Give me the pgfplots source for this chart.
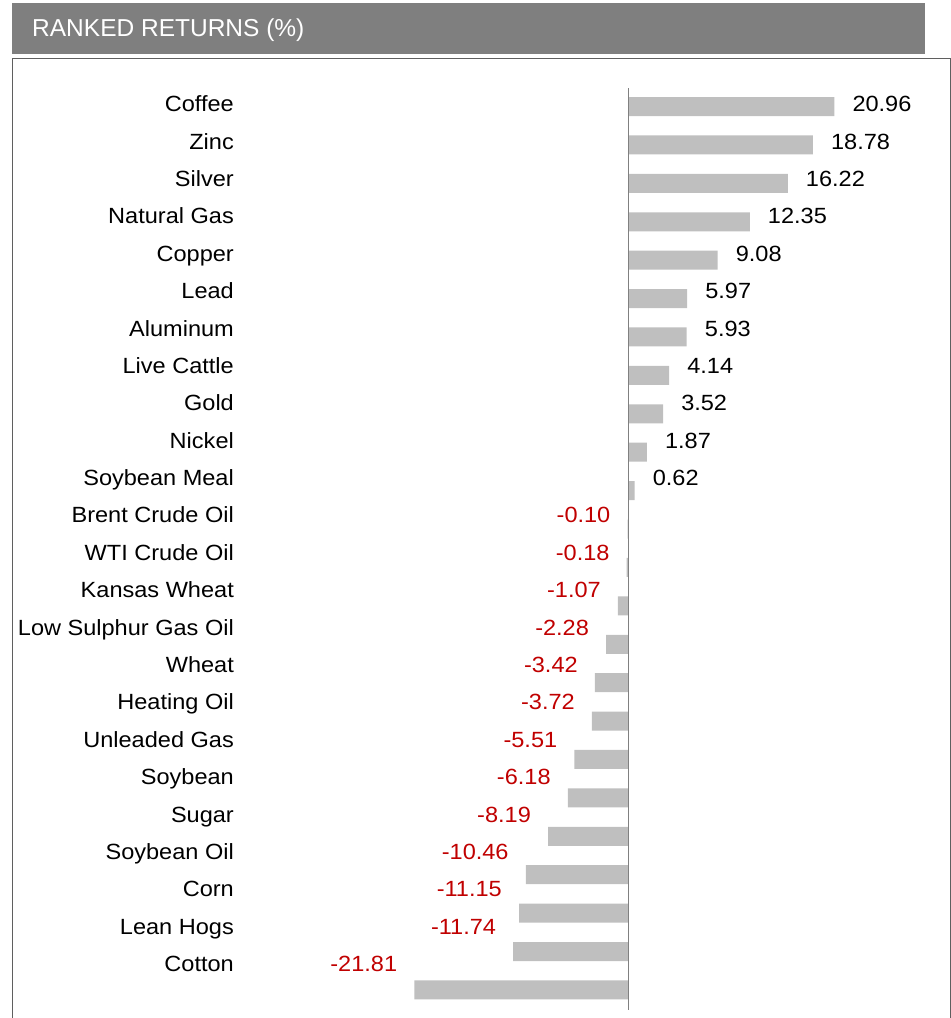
\documentclass[border=0pt]{standalone}
\usepackage{pgfplots}
\pgfplotsset{compat=1.18}
\usepackage{pgfplotstable}
\usepackage{fontspec}
\setmainfont{Liberation Sans}
\newfontfamily\widefont[FakeStretch=1.07]{Liberation Sans}
\definecolor{hdr}{RGB}{127,127,127}
\definecolor{barc}{RGB}{191,191,191}
\definecolor{negc}{RGB}{192,0,0}
\definecolor{bord}{RGB}{95,95,95}
\definecolor{zline}{RGB}{128,128,128}
\newcommand\labfont{\widefont\fontsize{22bp}{27bp}\selectfont}
\pgfplotstableread[col sep=comma]{
name,val,idx,lab
Coffee,20.96,0,0.135
Zinc,18.78,1,1.108
Silver,16.22,2,2.082
Natural Gas,12.35,3,3.055
Copper,9.08,4,4.029
Lead,5.97,5,5.002
Aluminum,5.93,6,5.975
Live Cattle,4.14,7,6.949
Gold,3.52,8,7.922
Nickel,1.87,9,8.896
Soybean Meal,0.62,10,9.869
Brent Crude Oil,-0.10,11,10.842
WTI Crude Oil,-0.18,12,11.816
Kansas Wheat,-1.07,13,12.789
Low Sulphur Gas Oil,-2.28,14,13.763
Wheat,-3.42,15,14.736
Heating Oil,-3.72,16,15.709
Unleaded Gas,-5.51,17,16.683
Soybean,-6.18,18,17.656
Sugar,-8.19,19,18.630
Soybean Oil,-10.46,20,19.603
Corn,-11.15,21,20.576
Lean Hogs,-11.74,22,21.550
Cotton,-21.81,23,22.523
}\data
\begin{document}
\begin{tikzpicture}
\useasboundingbox (0,0) rectangle (951bp,-1018bp);
\fill[hdr] (12bp,-3bp) rectangle (925bp,-54bp);
\node[anchor=base west, inner sep=0pt, text=white, font=\fontsize{24.5bp}{28bp}\selectfont] at (32bp,-36bp) {RANKED RETURNS (\%)};
\begin{axis}[
  at={(12bp,-1015bp)}, anchor=south west,
  scale only axis, width=938bp, height=957bp,
  xmin=-62.78, xmax=32.74,
  ymin=-1.263, ymax=23.653, y dir=reverse,
  axis line style={draw=none},
  xtick=\empty, ytick=\empty,
  clip=false,
]
\addplot[xbar, bar width=19bp, fill=barc, draw=none] table[x=val,y=idx]{\data};
\addplot[zline, line width=1.5bp, mark=none] coordinates {(0,-0.48) (0,23.52)};
\addplot[bord, line width=0.9bp, mark=none] coordinates {(-62.78,23.9) (-62.78,-1.263) (32.74,-1.263) (32.74,23.9)};
\addplot[draw=none, mark=none, nodes near coords, point meta=explicit symbolic,
  nodes near coords style={anchor=base east, inner sep=0pt, font=\labfont, text=black}]
  table[x expr=-40.17, y=lab, meta=name]{\data};
\addplot[draw=none, mark=none, restrict x to domain=0:100, nodes near coords, point meta=explicit symbolic,
  nodes near coords style={anchor=base west, inner sep=0pt, xshift=18bp, font=\labfont, text=black}]
  table[x=val, y=lab, meta=val]{\data};
\addplot[draw=none, mark=none, restrict x to domain=-100:0, nodes near coords, point meta=explicit symbolic,
  nodes near coords style={anchor=base east, inner sep=0pt, xshift=-17bp, font=\labfont, text=negc}]
  table[x=val, y=lab, meta=val]{\data};
\end{axis}
\end{tikzpicture}
\end{document}
